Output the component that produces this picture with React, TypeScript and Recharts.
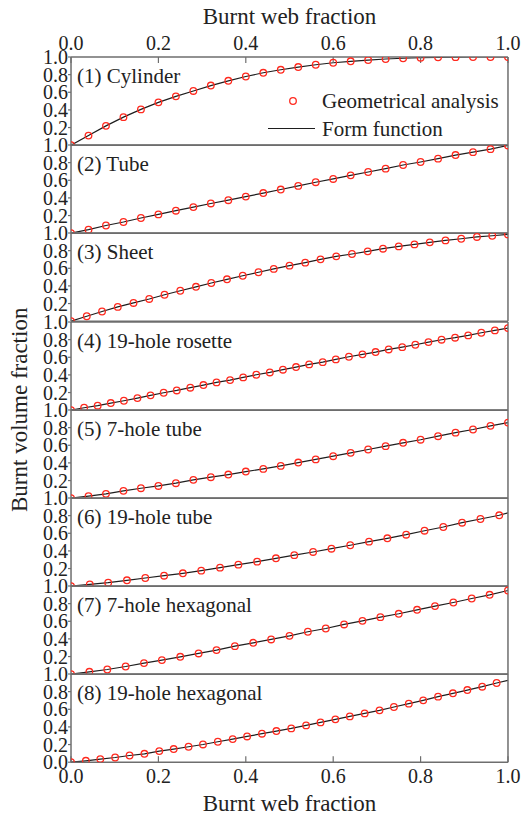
import React from 'react';
import { ComposedChart, Line, XAxis, YAxis } from 'recharts';

const FONT = '"Liberation Serif", "Times New Roman", serif';
const RED = '#ff2a1f';
const INK = '#1e1e1e';
const FRAME = '#6e6e6e';

// sampling grids (burnt web fraction)
const xStep25 = [0, 0.04, 0.08, 0.12, 0.16, 0.2, 0.24, 0.28, 0.32, 0.36, 0.4, 0.44, 0.48, 0.52, 0.56, 0.6, 0.64, 0.68, 0.72, 0.76, 0.8, 0.84, 0.88, 0.92, 0.96, 1];
const xStep28 = [0, 0.036, 0.071, 0.107, 0.143, 0.179, 0.214, 0.25, 0.286, 0.321, 0.357, 0.393, 0.429, 0.464, 0.5, 0.536, 0.571, 0.607, 0.643, 0.679, 0.714, 0.75, 0.786, 0.821, 0.857, 0.893, 0.929, 0.964, 1];
const xStep33 = [0, 0.03, 0.061, 0.091, 0.121, 0.152, 0.182, 0.212, 0.242, 0.273, 0.303, 0.333, 0.364, 0.394, 0.424, 0.455, 0.485, 0.515, 0.545, 0.576, 0.606, 0.636, 0.667, 0.697, 0.727, 0.758, 0.788, 0.818, 0.848, 0.879, 0.909, 0.939, 0.97, 1];
const xStep23 = [0, 0.043, 0.085, 0.128, 0.17, 0.213, 0.256, 0.298, 0.341, 0.383, 0.426, 0.469, 0.511, 0.554, 0.596, 0.639, 0.682, 0.724, 0.767, 0.809, 0.852, 0.895, 0.937, 0.98];
const xStep24 = [0, 0.042, 0.083, 0.125, 0.167, 0.208, 0.25, 0.292, 0.333, 0.375, 0.417, 0.458, 0.5, 0.542, 0.583, 0.625, 0.667, 0.708, 0.75, 0.792, 0.833, 0.875, 0.917, 0.958, 1];
const xStep30 = [0, 0.034, 0.067, 0.101, 0.134, 0.168, 0.202, 0.235, 0.269, 0.302, 0.336, 0.37, 0.403, 0.437, 0.47, 0.504, 0.538, 0.571, 0.605, 0.638, 0.672, 0.706, 0.739, 0.773, 0.806, 0.84, 0.874, 0.907, 0.941, 0.974];

// burnt volume fraction, geometrical analysis
const cylinder = [0, 0.109, 0.219, 0.318, 0.406, 0.486, 0.554, 0.615, 0.676, 0.73, 0.779, 0.821, 0.855, 0.886, 0.912, 0.935, 0.951, 0.965, 0.977, 0.986, 0.992, 0.996, 0.998, 1, 1, 1];
const tube = [0, 0.04, 0.087, 0.127, 0.172, 0.213, 0.255, 0.296, 0.337, 0.374, 0.415, 0.455, 0.495, 0.536, 0.578, 0.615, 0.656, 0.694, 0.732, 0.773, 0.807, 0.845, 0.886, 0.919, 0.953, 0.995];
const sheet = [0, 0.056, 0.11, 0.162, 0.207, 0.252, 0.3, 0.345, 0.39, 0.433, 0.475, 0.515, 0.555, 0.593, 0.63, 0.664, 0.701, 0.735, 0.762, 0.792, 0.822, 0.848, 0.871, 0.894, 0.916, 0.935, 0.955, 0.969, 0.984];
const rosette19 = [0, 0.028, 0.051, 0.081, 0.107, 0.137, 0.168, 0.198, 0.224, 0.255, 0.285, 0.315, 0.341, 0.372, 0.402, 0.428, 0.459, 0.489, 0.519, 0.545, 0.576, 0.606, 0.633, 0.659, 0.689, 0.715, 0.742, 0.772, 0.799, 0.822, 0.848, 0.878, 0.905, 0.931];
const tube7 = [0, 0.023, 0.049, 0.083, 0.113, 0.139, 0.17, 0.208, 0.238, 0.268, 0.302, 0.332, 0.366, 0.404, 0.44, 0.476, 0.514, 0.552, 0.59, 0.628, 0.663, 0.703, 0.743, 0.779, 0.82, 0.857];
const tube19 = [0, 0.021, 0.04, 0.067, 0.093, 0.119, 0.146, 0.176, 0.21, 0.244, 0.278, 0.316, 0.352, 0.388, 0.425, 0.464, 0.505, 0.543, 0.584, 0.629, 0.671, 0.72, 0.762, 0.804];
const hex7 = [0, 0.027, 0.053, 0.087, 0.126, 0.16, 0.197, 0.235, 0.273, 0.318, 0.356, 0.394, 0.435, 0.481, 0.518, 0.564, 0.605, 0.647, 0.685, 0.73, 0.772, 0.813, 0.858, 0.9, 0.949];
const hex19 = [0, 0.016, 0.035, 0.053, 0.076, 0.095, 0.126, 0.149, 0.175, 0.201, 0.232, 0.262, 0.292, 0.323, 0.353, 0.383, 0.417, 0.451, 0.486, 0.519, 0.553, 0.588, 0.626, 0.664, 0.701, 0.743, 0.781, 0.818, 0.856, 0.898];

// form-function value at the right edge where it runs past the last circle
const formEndTube19 = 0.832;
const formEndHex19 = 0.928;

const panelLabels = ['(1) Cylinder', '(2) Tube', '(3) Sheet', '(4) 19-hole rosette', '(5) 7-hole tube', '(6) 19-hole tube', '(7) 7-hole hexagonal', '(8) 19-hole hexagonal'];

const majorXTicks = [0, 0.2, 0.4, 0.6, 0.8, 1.0];
const minorXTicks = [0.1, 0.3, 0.5, 0.7, 0.9];
const yTicksFull = [0, 0.2, 0.4, 0.6, 0.8, 1.0];
const yTicksUpper = [0.2, 0.4, 0.6, 0.8, 1.0];
const yTicksInner = [0.2, 0.4, 0.6, 0.8];

const xTitle = 'Burnt web fraction';
const yTitle = 'Burnt volume fraction';
const legendGeo = 'Geometrical analysis';
const legendForm = 'Form function';

type PanelDef = { label: string; xs: number[]; geo: number[]; formEnd: number | null };
const panels: PanelDef[] = [
  { label: panelLabels[0], xs: xStep25, geo: cylinder, formEnd: null },
  { label: panelLabels[1], xs: xStep25, geo: tube, formEnd: null },
  { label: panelLabels[2], xs: xStep28, geo: sheet, formEnd: null },
  { label: panelLabels[3], xs: xStep33, geo: rosette19, formEnd: null },
  { label: panelLabels[4], xs: xStep25, geo: tube7, formEnd: null },
  { label: panelLabels[5], xs: xStep23, geo: tube19, formEnd: formEndTube19 },
  { label: panelLabels[6], xs: xStep24, geo: hex7, formEnd: null },
  { label: panelLabels[7], xs: xStep30, geo: hex19, formEnd: formEndHex19 },
];

const W = 529;
const H = 820;
const PLOT_TOP = 57;
const PANEL_H = 88.2;
const PAD = 15;
const LEFT_W = 71;
const RIGHT_M = 20;
const AX = 1; // thickness reserved by each helper axis

const fmt = (v: number) => v.toFixed(1);
const tickText = { fontSize: 20, fill: '#222', fontFamily: FONT };
const axisLine = { stroke: FRAME, strokeWidth: 1.5 };
const tickLine = { stroke: FRAME, strokeWidth: 1.2 };

function Panel({ idx }: { idx: number }) {
  const p = panels[idx];
  const first = idx === 0;
  const last = idx === panels.length - 1;
  const plotTop = PLOT_TOP + idx * PANEL_H;
  const mt = first ? PLOT_TOP : PAD;
  const mb = last ? H - (plotTop + PANEL_H) : PAD;
  const height = mt + PANEL_H + mb;
  const data: { x: number; geo?: number; form: number }[] = p.xs.map((x, i) => ({ x, geo: p.geo[i], form: p.geo[i] }));
  if (p.formEnd !== null) data.push({ x: 1, form: p.formEnd });

  return (
    <div style={{ position: 'absolute', left: 0, top: plotTop - mt, width: W, height }}>
      <ComposedChart
        width={W}
        height={height}
        data={data}
        margin={{ top: mt - 2 * AX, right: RIGHT_M, bottom: mb - 2 * AX, left: 0 }}
      >
        <XAxis
          xAxisId="t" orientation="top" type="number" dataKey="x" domain={[0, 1]} allowDataOverflow
          ticks={majorXTicks} interval={0} height={AX} tickSize={-6} tickMargin={13}
          tick={first ? tickText : false} tickFormatter={fmt} axisLine={axisLine} tickLine={tickLine}
          label={first ? { value: xTitle, position: 'top', offset: 32, fontSize: 23, fill: '#222', fontFamily: FONT } : undefined}
        />
        <XAxis
          xAxisId="tm" orientation="top" type="number" dataKey="x" domain={[0, 1]} allowDataOverflow
          ticks={minorXTicks} interval={0} height={AX} tickSize={-3} tick={false} axisLine={false} tickLine={tickLine}
        />
        <XAxis
          xAxisId="b" orientation="bottom" type="number" dataKey="x" domain={[0, 1]} allowDataOverflow
          ticks={majorXTicks} interval={0} height={AX} tickSize={-6} tickMargin={13}
          tick={last ? tickText : false} tickFormatter={fmt} axisLine={axisLine} tickLine={tickLine}
          label={last ? { value: xTitle, position: 'bottom', offset: 31, fontSize: 23, fill: '#222', fontFamily: FONT } : undefined}
        />
        <XAxis
          xAxisId="bm" orientation="bottom" type="number" dataKey="x" domain={[0, 1]} allowDataOverflow
          ticks={minorXTicks} interval={0} height={AX} tickSize={-3} tick={false} axisLine={false} tickLine={tickLine}
        />
        <YAxis
          yAxisId="l" orientation="left" type="number" domain={[0, 1]} allowDataOverflow
          ticks={last ? yTicksFull : yTicksUpper} interval={0} width={LEFT_W} tickSize={3} tickMargin={0}
          tick={tickText} tickFormatter={fmt} axisLine={axisLine} tickLine={tickLine}
        />
        <YAxis
          yAxisId="r" orientation="right" type="number" domain={[0, 1]} allowDataOverflow
          ticks={yTicksInner} interval={0} width={AX} tickSize={-4} tick={false} axisLine={axisLine} tickLine={tickLine}
        />
        <Line
          xAxisId="b" yAxisId="l" type="linear" dataKey="form" stroke={INK} strokeWidth={1.2}
          dot={false} activeDot={false} isAnimationActive={false}
        />
        <Line
          xAxisId="b" yAxisId="l" type="linear" dataKey="geo" stroke="none" strokeWidth={0}
          dot={{ r: 3.3, stroke: RED, strokeWidth: 1.3, fill: 'none' }} activeDot={false} isAnimationActive={false}
        />
      </ComposedChart>
    </div>
  );
}

export default function App() {
  return (
    <div style={{ position: 'absolute', left: 0, top: 0, width: W, height: H, background: '#fff', fontFamily: FONT }}>
      {panels.map((_, i) => (
        <Panel key={i} idx={i} />
      ))}
      <svg width={W} height={H} style={{ position: 'absolute', left: 0, top: 0, pointerEvents: 'none' }}>
        <text
          x={0} y={0} transform={`translate(19, ${PLOT_TOP + 4 * PANEL_H}) rotate(-90)`}
          textAnchor="middle" dominantBaseline="central" fontSize={23} fill="#222" fontFamily={FONT}
        >
          {yTitle}
        </text>
        {panels.map((p, i) => (
          <text key={i} x={77} y={PLOT_TOP + i * PANEL_H + 19} dominantBaseline="central" fontSize={21} fill="#222" fontFamily={FONT}>
            {p.label}
          </text>
        ))}
        <circle cx={293} cy={101} r={3.3} stroke={RED} strokeWidth={1.3} fill="none" />
        <text x={322} y={101} dominantBaseline="central" fontSize={21} fill="#222" fontFamily={FONT}>{legendGeo}</text>
        <line x1={268} x2={315} y1={128.5} y2={128.5} stroke={INK} strokeWidth={1.2} />
        <text x={322} y={128.5} dominantBaseline="central" fontSize={21} fill="#222" fontFamily={FONT}>{legendForm}</text>
      </svg>
    </div>
  );
}
